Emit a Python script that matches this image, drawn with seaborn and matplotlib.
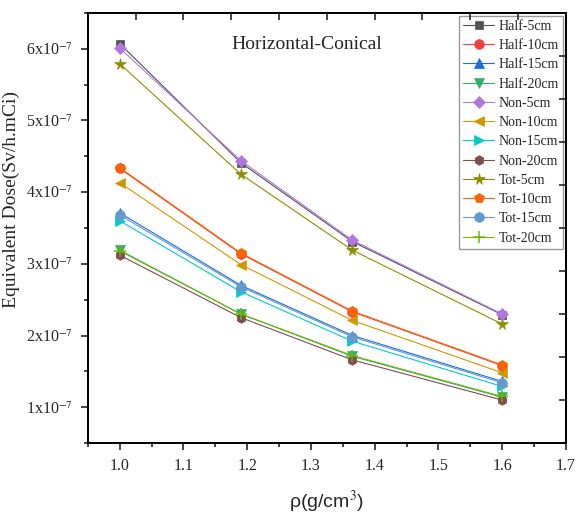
import numpy as np
import pandas as pd
import matplotlib
matplotlib.use("Agg")
import matplotlib.pyplot as plt
from matplotlib.ticker import MultipleLocator, FixedLocator
import seaborn as sns

# densities (g/cm3)
rho = [1.0, 1.19, 1.365, 1.6]

# equivalent dose, units of 1e-7 Sv/h.mCi
half_5 = [6.07, 4.41, 3.31, 2.29]
half_10 = [4.33, 3.14, 2.33, 1.58]
half_15 = [3.71, 2.70, 2.00, 1.36]
half_20 = [3.19, 2.30, 1.71, 1.14]
non_5 = [6.01, 4.44, 3.33, 2.30]
non_10 = [4.13, 2.99, 2.21, 1.48]
non_15 = [3.60, 2.61, 1.92, 1.29]
non_20 = [3.12, 2.25, 1.66, 1.10]
tot_5 = [5.79, 4.25, 3.19, 2.16]
tot_10 = [4.34, 3.15, 2.34, 1.59]
tot_15 = [3.68, 2.68, 1.98, 1.34]
tot_20 = [3.18, 2.30, 1.72, 1.15]

labels = ["Half-5cm", "Half-10cm", "Half-15cm", "Half-20cm",
          "Non-5cm", "Non-10cm", "Non-15cm", "Non-20cm",
          "Tot-5cm", "Tot-10cm", "Tot-15cm", "Tot-20cm"]
values = [half_5, half_10, half_15, half_20, non_5, non_10, non_15, non_20,
          tot_5, tot_10, tot_15, tot_20]
colors = ["#515151", "#F14040", "#1A6FDF", "#37AD6B", "#B177DE", "#CC9900",
          "#00CBCC", "#7D4E4E", "#8E8E00", "#FB6501", "#6699CC", "#6FB802"]
markers = ["s", "o", "^", "v", "D", "<", ">", "h", "*", "p", "o", "+"]
msizes = [6, 7, 7, 7, 6, 7, 7, 7, 8.5, 7.5, 7, 8.5]

sns.set_theme(style="ticks")
plt.rcParams["font.family"] = ["Liberation Serif", "DejaVu Serif"]
plt.rcParams["mathtext.fontset"] = "stix"

fig = plt.figure(figsize=(5.78, 5.14), dpi=100)
ax = fig.add_axes([0.152, 0.138, 0.827, 0.837])

for lab, vals, c, m, ms in zip(labels, values, colors, markers, msizes):
    df = pd.DataFrame({"rho": rho, "dose": np.array(vals) * 1e-7})
    sns.lineplot(data=df, x="rho", y="dose", ax=ax, color=c, marker=m,
                 markersize=ms, markeredgecolor=c,
                 markeredgewidth=1.1 if m == "+" else 0.5,
                 linewidth=0.8, label=lab)

ax.set_xlim(0.95, 1.7)
ax.set_ylim(0.5e-7, 6.5e-7)
ax.xaxis.set_major_locator(MultipleLocator(0.1))
ax.xaxis.set_minor_locator(MultipleLocator(0.05))
ax.yaxis.set_major_locator(FixedLocator([i * 1e-7 for i in range(1, 7)]))
ax.yaxis.set_minor_locator(FixedLocator([(i + 0.5) * 1e-7 for i in range(0, 7)]))
ax.set_xticklabels([f"{t:.1f}" for t in ax.get_xticks()])
ax.set_yticklabels([f"{i}x10$^{{-7}}$" for i in range(1, 7)])
ax.tick_params(which="major", direction="out", length=5, width=1.2, labelsize=11.5, pad=6)
ax.tick_params(which="minor", direction="out", length=3, width=1.2)
for sp in ax.spines.values():
    sp.set_linewidth(1.3)
    sp.set_color("black")
    sp.set_visible(True)

ax.set_xlabel("ρ(g/cm$^3$)", fontsize=14, family=["Liberation Sans", "DejaVu Sans"])
ax.xaxis.set_label_coords(0.5, -0.107)
ax.set_ylabel("Equivalent Dose(Sv/h.mCi)", fontsize=14)
ax.yaxis.set_label_coords(-0.142, 0.567)
ax.text(0.3, 0.915, "Horizontal-Conical", transform=ax.transAxes, fontsize=14)

leg = ax.legend(loc="upper right", fontsize=10, frameon=True, fancybox=False,
                edgecolor="#808080", handlelength=2.2, handletextpad=0.35,
                labelspacing=0.45, borderpad=0.3, borderaxespad=0.2)
leg.get_frame().set_linewidth(1.0)

# top / right axes of the Origin layer with their own even ticks
tx = ax.twiny()
tx.set_xlim(0, 1)
tx.xaxis.set_major_locator(FixedLocator(np.arange(0.1, 1.0, 0.1)))
tx.tick_params(axis="x", direction="in", length=5, width=1.2, labeltop=False)
ty = ax.twinx()
ty.set_ylim(0, 1)
ty.yaxis.set_major_locator(FixedLocator(np.arange(0.1, 1.0, 0.1)))
ty.tick_params(axis="y", direction="in", length=5, width=1.2, labelright=False)
for a in (tx, ty):
    for sp in a.spines.values():
        sp.set_linewidth(1.3)
        sp.set_color("black")

fig.savefig("out.png", dpi=100)
